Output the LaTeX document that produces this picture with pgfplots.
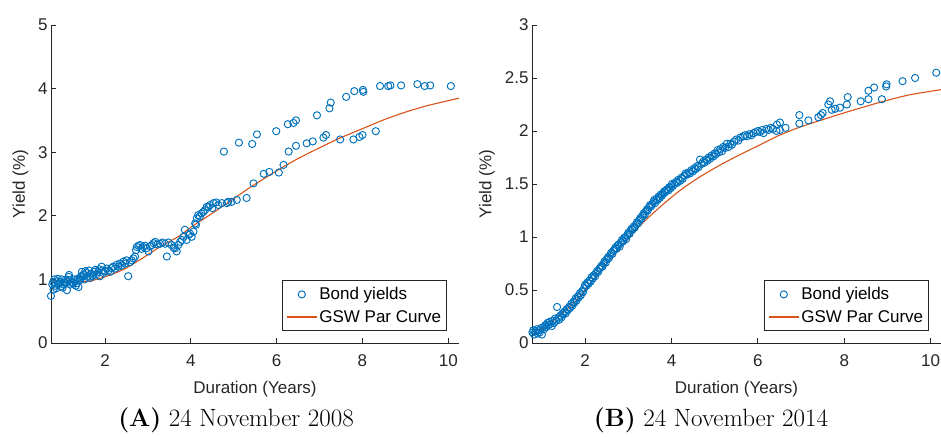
\documentclass[border=0pt]{standalone}
\usepackage{fontspec}
\newfontfamily\arial{Liberation Sans}
\usepackage{pgfplots}
\pgfplotsset{compat=1.18}
\definecolor{mblue}{RGB}{0,114,189}
\definecolor{morange}{RGB}{217,83,25}
\definecolor{axgray}{RGB}{38,38,38}
\newcommand{\af}{\arial\fontsize{17}{20}\selectfont}
\pgfplotsset{
  myaxis/.style={
    scale only axis, height=318pt, anchor=south west,
    axis x line=bottom, axis y line=left,
    axis line style={-, draw=axgray, line width=0.8pt},
    tick align=inside, major tick length=4.5pt,
    tick style={axgray, line width=0.8pt},
    every tick label/.append style={font=\af, text=axgray},
    /pgf/number format/assume math mode=true,
    xtick={2,4,6,8,10},
    xticklabel style={yshift=-8pt},
    xlabel={Duration (Years)}, ylabel={Yield (\%)},
    every axis x label/.style={at={(axis description cs:0.5,0)}, anchor=center, yshift=-46pt, font=\af, text=axgray},
    every axis y label/.style={at={(axis description cs:0,0.5)}, rotate=90, anchor=center, font=\af, text=axgray},
    legend style={at={(1,0)}, anchor=south east, xshift=-12pt, yshift=12pt, draw=axgray, line width=0.6pt,
      font=\af, legend cell align=left, inner xsep=3.5pt, inner ysep=5pt, row sep=5pt},
    clip=false,
  },
  scat/.style={only marks, mark=o, mark size=3.6pt, color=mblue, line width=0.95pt,
    legend image code/.code={\draw[mark repeat=2,mark phase=2,##1] plot coordinates {(0pt,0pt) (15pt,0pt) (30pt,0pt)};}},
  curve/.style={no marks, color=morange, line width=1.1pt,
    legend image code/.code={\draw[##1] (0pt,0pt) -- (30pt,0pt);}},
}
\begin{document}
\begin{tikzpicture}
\useasboundingbox (0pt,0pt) rectangle (941pt,436pt);
\begin{axis}[myaxis, at={(51pt,93pt)}, width=408pt, xmin=0.74, xmax=10.25, ymin=0, ymax=5,
  ytick={0,1,2,3,4,5}, every axis y label/.append style={yshift=30.5pt}]
\addplot[scat] coordinates {
(0.74,0.74) (0.77,0.92) (0.79,0.96) (0.80,0.84) (0.82,1.00) (0.84,0.90) (0.86,0.86) (0.88,0.97)
(0.90,1.01) (0.92,0.93) (0.95,0.96) (0.97,0.89) (0.99,1.00) (1.01,0.87) (1.03,0.92) (1.05,0.95)
(1.07,0.94) (1.09,1.00) (1.11,0.83) (1.13,0.97) (1.15,1.04) (1.16,1.07) (1.18,0.99) (1.20,0.92)
(1.22,0.96) (1.24,0.94) (1.26,0.94) (1.28,1.00) (1.30,0.97) (1.32,0.90) (1.34,0.94) (1.36,1.01)
(1.38,0.88) (1.40,0.99) (1.42,0.99) (1.44,1.05) (1.46,1.12) (1.48,1.04) (1.50,1.08) (1.52,1.00)
(1.54,1.13) (1.57,1.10) (1.59,1.04) (1.62,1.14) (1.65,1.02) (1.67,1.09) (1.70,1.05) (1.73,1.07)
(1.75,1.12) (1.77,1.15) (1.80,1.08) (1.84,1.12) (1.86,1.16) (1.88,1.05) (1.92,1.20) (1.94,1.14)
(1.96,1.10) (2.00,1.13) (2.04,1.17) (2.08,1.14) (2.12,1.12) (2.15,1.18) (2.19,1.20) (2.23,1.17)
(2.27,1.23) (2.31,1.20) (2.35,1.25) (2.39,1.22) (2.43,1.28) (2.47,1.25) (2.50,1.30) (2.54,1.05)
(2.58,1.27) (2.62,1.30) (2.66,1.33) (2.70,1.36) (2.72,1.46) (2.74,1.51) (2.78,1.53) (2.82,1.54)
(2.85,1.48) (2.89,1.51) (2.93,1.53) (2.97,1.49) (3.01,1.44) (3.05,1.52) (3.09,1.54) (3.13,1.57)
(3.17,1.59) (3.22,1.55) (3.28,1.56) (3.34,1.58) (3.40,1.56) (3.44,1.36) (3.48,1.58) (3.55,1.54)
(3.60,1.50) (3.63,1.49) (3.67,1.44) (3.71,1.54) (3.75,1.59) (3.79,1.62) (3.83,1.67) (3.86,1.78)
(3.90,1.62) (3.95,1.70) (3.98,1.72) (4.02,1.67) (4.06,1.75) (4.10,1.88) (4.12,1.86) (4.14,1.96)
(4.17,2.01) (4.21,1.99) (4.25,2.04) (4.29,2.06) (4.33,2.09) (4.37,2.14) (4.41,2.14) (4.45,2.17)
(4.50,2.12) (4.53,2.20) (4.59,2.21) (4.64,2.17) (4.72,2.20) (4.77,3.01) (4.84,2.20) (4.87,2.22)
(4.95,2.22) (5.07,2.25) (5.12,3.15) (5.30,2.28) (5.43,3.13) (5.46,2.51) (5.54,3.28) (5.70,2.66)
(5.83,2.69) (5.99,3.33) (6.05,2.68) (6.16,2.80) (6.26,3.44) (6.28,3.01) (6.39,3.46) (6.45,3.50)
(6.45,3.10) (6.70,3.14) (6.84,3.17) (6.94,3.58) (7.09,3.23) (7.15,3.27) (7.23,3.69) (7.26,3.78)
(7.48,3.20) (7.62,3.87) (7.79,3.20) (7.81,3.96) (7.93,3.24) (8.00,3.27) (8.01,3.98) (8.02,3.95)
(8.31,3.33) (8.41,4.04) (8.60,4.04) (8.65,4.05) (8.90,4.05) (9.28,4.07) (9.45,4.04) (9.58,4.05)
(10.06,4.04)
};
\addlegendentry{Bond yields}
\addplot[curve, smooth] coordinates {
(0.74,0.99) (1.0,0.97) (1.4,0.96) (1.75,0.99) (2.16,1.08) (2.5,1.18) (2.93,1.36) (3.3,1.52)
(3.75,1.69) (4.0,1.82) (4.5,2.04) (5.0,2.27) (5.3,2.41) (5.6,2.54) (6.08,2.74) (6.5,2.90)
(7.0,3.07) (7.5,3.23) (8.0,3.37) (8.5,3.51) (9.0,3.63) (9.5,3.73) (10.0,3.81) (10.25,3.85)
};
\addlegendentry{GSW Par Curve}
\end{axis}
\begin{axis}[myaxis, at={(532pt,93pt)}, width=409pt, xmin=0.77, xmax=10.24, ymin=0, ymax=3,
  ytick={0,0.5,1,1.5,2,2.5,3}, every axis y label/.append style={yshift=45pt}]
\addplot[scat] coordinates {
(0.78,0.10) (0.80,0.12) (0.82,0.08) (0.85,0.11) (0.88,0.13) (0.90,0.09) (0.93,0.12) (0.95,0.10)
(0.98,0.14) (1.00,0.08) (1.03,0.15) (1.05,0.13) (1.08,0.17) (1.10,0.15) (1.13,0.19) (1.15,0.17)
(1.18,0.20) (1.20,0.18) (1.23,0.16) (1.25,0.21) (1.28,0.19) (1.30,0.23) (1.33,0.21) (1.35,0.34)
(1.38,0.24) (1.40,0.22) (1.43,0.26) (1.45,0.24) (1.48,0.28) (1.50,0.27) (1.53,0.30) (1.55,0.28)
(1.58,0.32) (1.60,0.31) (1.63,0.34) (1.65,0.33) (1.68,0.37) (1.70,0.35) (1.73,0.39) (1.75,0.38)
(1.78,0.42) (1.80,0.40) (1.83,0.44) (1.85,0.43) (1.88,0.47) (1.90,0.45) (1.93,0.49) (1.95,0.48)
(1.98,0.52) (2.00,0.55) (2.03,0.54) (2.05,0.57) (2.08,0.56) (2.10,0.59) (2.13,0.58) (2.15,0.62)
(2.18,0.61) (2.20,0.64) (2.23,0.63) (2.25,0.66) (2.28,0.68) (2.30,0.67) (2.33,0.70) (2.35,0.71)
(2.38,0.73) (2.40,0.72) (2.43,0.75) (2.45,0.77) (2.48,0.76) (2.50,0.79) (2.53,0.81) (2.55,0.80)
(2.58,0.83) (2.60,0.85) (2.63,0.84) (2.65,0.87) (2.68,0.88) (2.70,0.90) (2.73,0.89) (2.75,0.92)
(2.78,0.93) (2.80,0.91) (2.83,0.95) (2.85,0.97) (2.88,0.96) (2.90,0.99) (2.93,1.00) (2.95,0.98)
(2.98,1.02) (3.00,1.04) (3.03,1.03) (3.05,1.06) (3.08,1.08) (3.10,1.07) (3.13,1.10) (3.15,1.09)
(3.18,1.12) (3.20,1.14) (3.23,1.13) (3.25,1.16) (3.28,1.18) (3.30,1.17) (3.33,1.20) (3.35,1.22)
(3.38,1.21) (3.40,1.24) (3.43,1.26) (3.45,1.25) (3.48,1.28) (3.50,1.30) (3.53,1.29) (3.55,1.31)
(3.58,1.33) (3.60,1.35) (3.62,1.32) (3.65,1.36) (3.68,1.35) (3.70,1.38) (3.73,1.37) (3.75,1.40)
(3.78,1.39) (3.80,1.41) (3.83,1.43) (3.85,1.42) (3.88,1.44) (3.90,1.45) (3.93,1.44) (3.95,1.47)
(3.98,1.46) (4.01,1.50) (4.03,1.48) (4.06,1.50) (4.10,1.52) (4.13,1.51) (4.16,1.54) (4.20,1.53)
(4.23,1.56) (4.26,1.55) (4.30,1.58) (4.33,1.60) (4.36,1.59) (4.40,1.61) (4.43,1.60) (4.46,1.63)
(4.50,1.62) (4.53,1.65) (4.56,1.64) (4.60,1.67) (4.63,1.66) (4.66,1.73) (4.70,1.69) (4.73,1.71)
(4.76,1.70) (4.80,1.73) (4.83,1.72) (4.86,1.75) (4.90,1.74) (4.93,1.77) (4.97,1.76) (5.00,1.79)
(5.03,1.78) (5.07,1.82) (5.10,1.80) (5.13,1.83) (5.17,1.81) (5.20,1.85) (5.24,1.84) (5.28,1.88)
(5.32,1.85) (5.36,1.88) (5.40,1.87) (5.45,1.90) (5.50,1.92) (5.55,1.91) (5.60,1.94) (5.66,1.95)
(5.70,1.96) (5.75,1.95) (5.80,1.97) (5.85,1.96) (5.90,1.98) (5.95,1.99) (6.00,2.00) (6.05,1.99)
(6.10,2.01) (6.13,1.98) (6.20,2.02) (6.25,2.01) (6.30,2.03) (6.35,2.02) (6.43,2.00) (6.44,2.06)
(6.51,2.08) (6.51,2.01) (6.64,2.03) (6.96,2.15) (6.96,2.07) (7.17,2.10) (7.40,2.13) (7.46,2.15)
(7.50,2.17) (7.63,2.25) (7.67,2.28) (7.71,2.20) (7.79,2.21) (7.90,2.22) (8.06,2.25) (8.08,2.32)
(8.38,2.28) (8.56,2.38) (8.56,2.30) (8.69,2.41) (8.87,2.30) (8.97,2.42) (8.98,2.44) (9.35,2.47)
(9.64,2.50) (10.13,2.55)
};
\addlegendentry{Bond yields}
\addplot[curve, smooth] coordinates {
(0.77,0.10) (1.07,0.15) (1.38,0.25) (1.77,0.39) (2.16,0.58) (2.54,0.77) (2.93,0.95) (3.3,1.12)
(3.81,1.31) (4.2,1.44) (4.59,1.55) (5.0,1.65) (5.36,1.73) (6.0,1.86) (6.5,1.96) (7.0,2.04)
(7.83,2.15) (8.4,2.22) (8.91,2.28) (9.5,2.34) (10.24,2.39)
};
\addlegendentry{GSW Par Curve}
\end{axis}
\node[anchor=base, font=\fontsize{25}{30}\selectfont] at (236pt,10pt) {\textbf{(A)} 24 November 2008};
\node[anchor=base, font=\fontsize{25}{30}\selectfont] at (711pt,10pt) {\textbf{(B)} 24 November 2014};
\end{tikzpicture}
\end{document}
